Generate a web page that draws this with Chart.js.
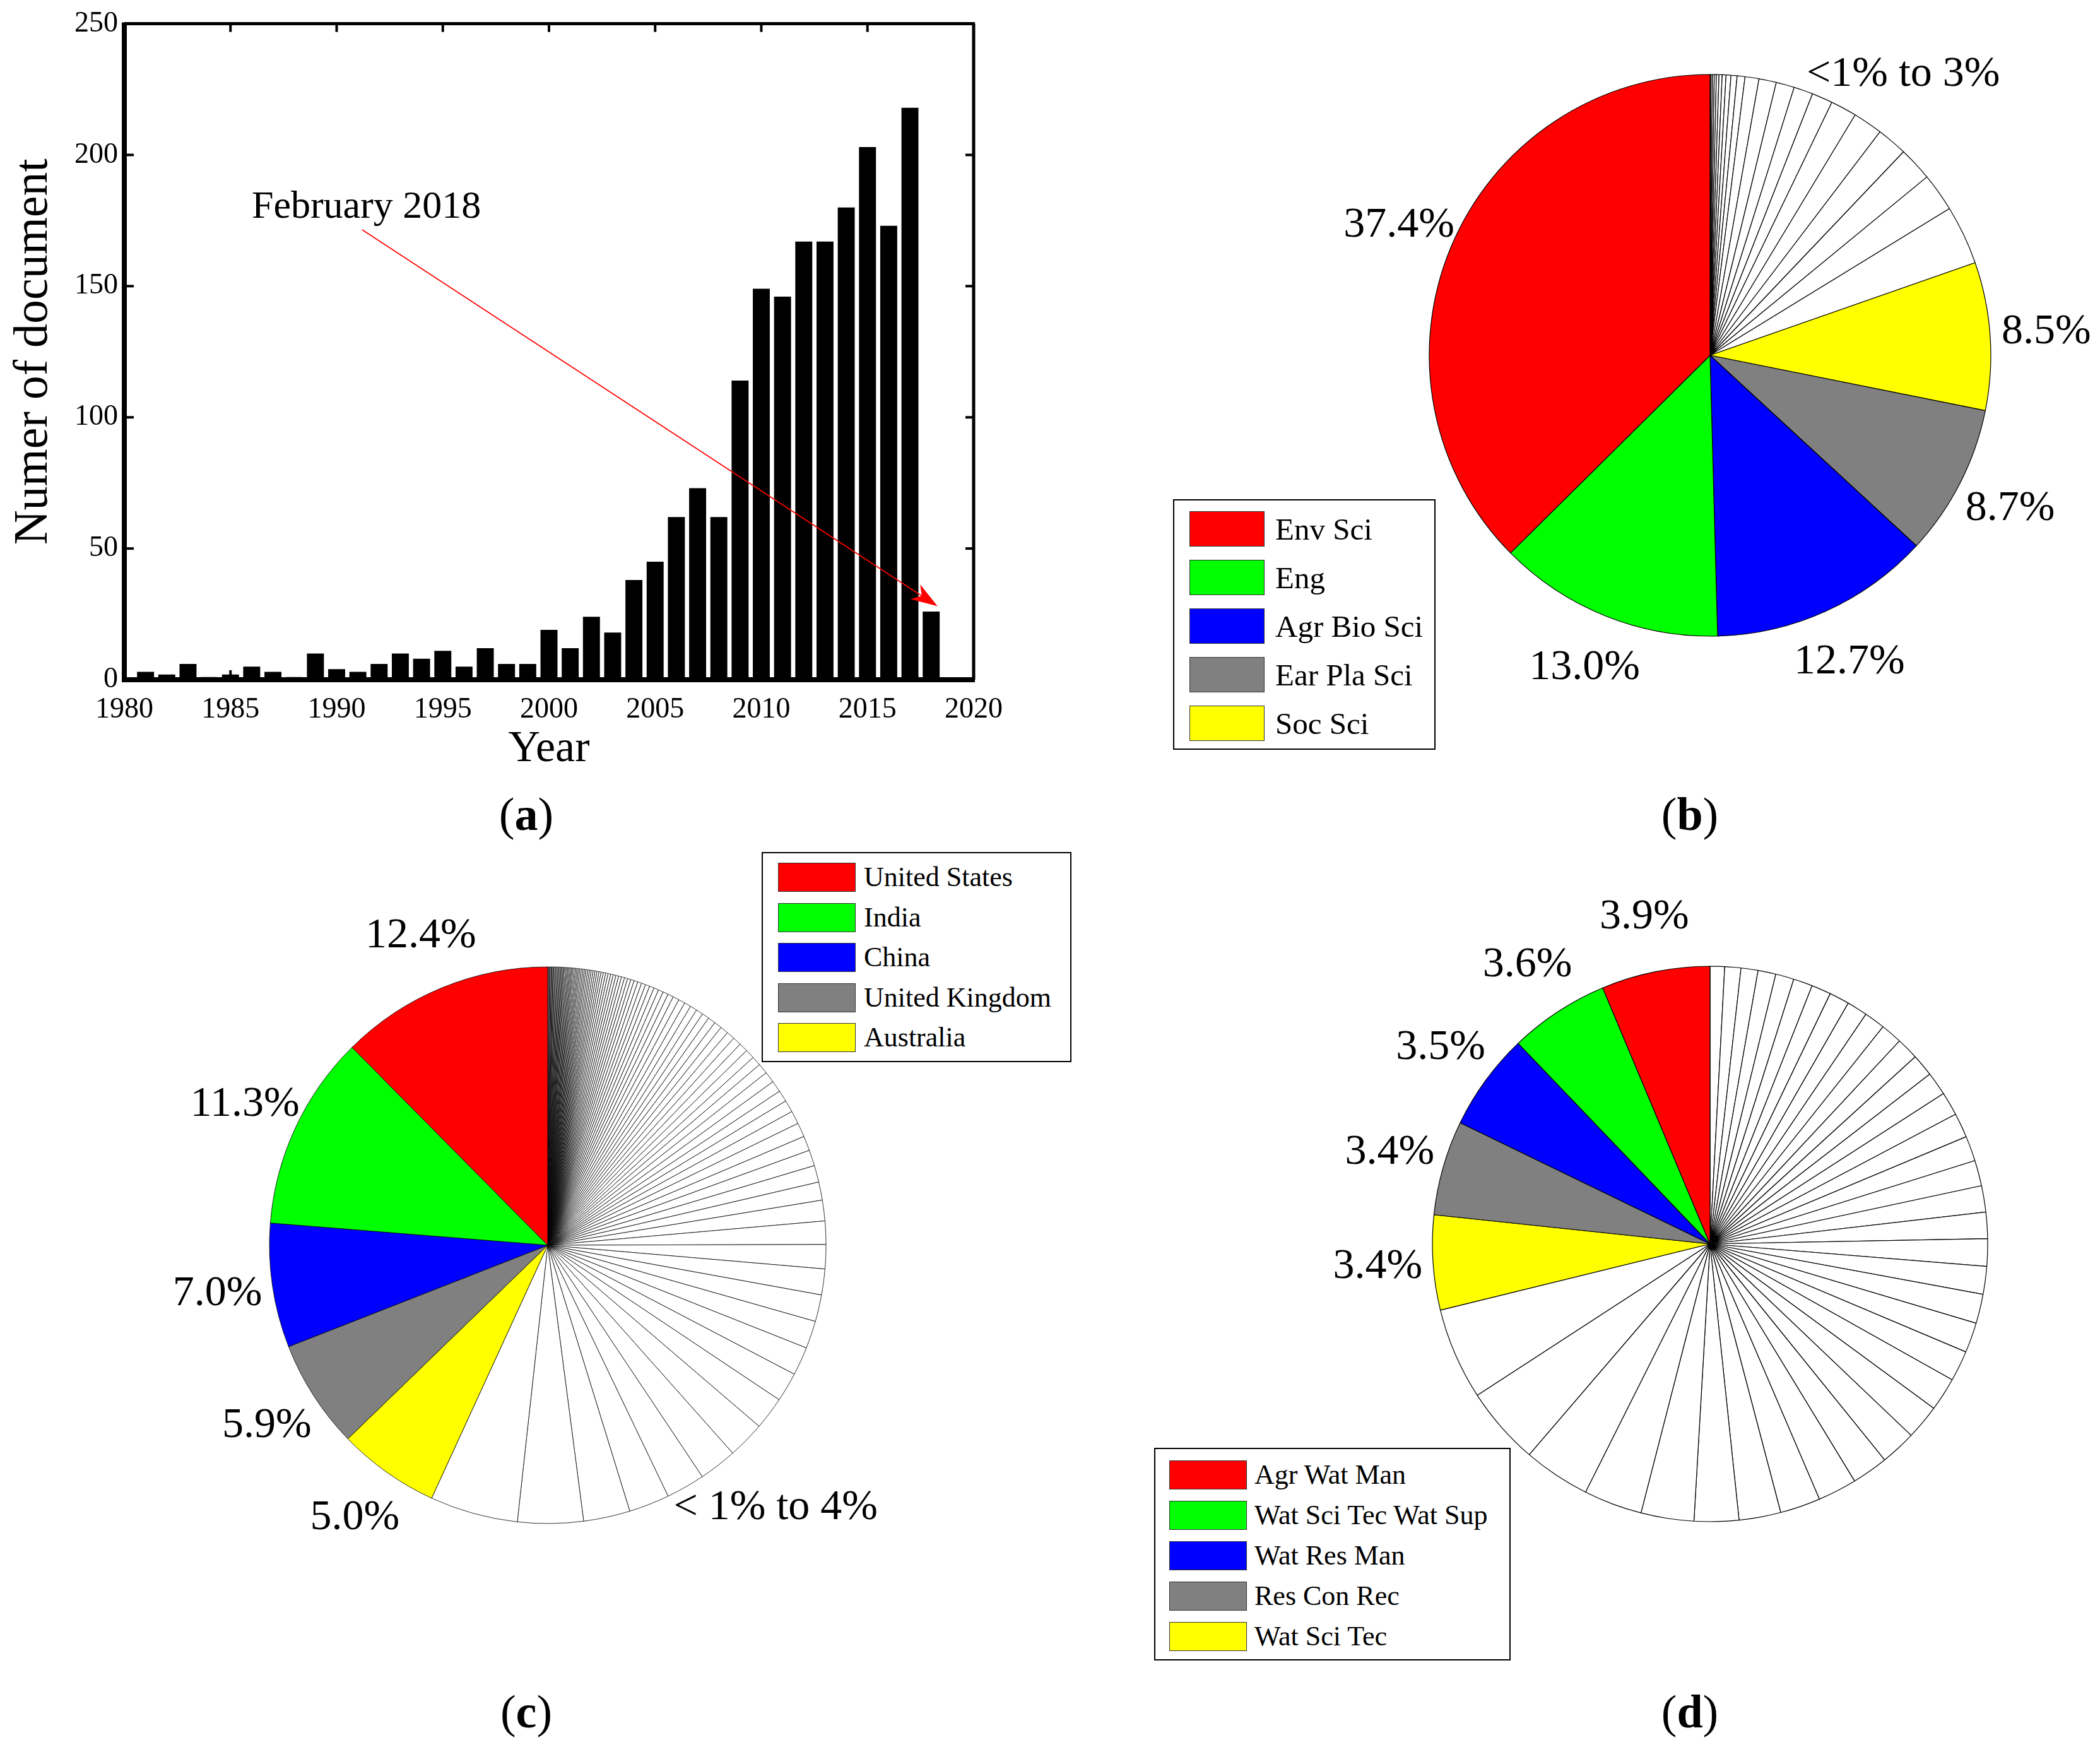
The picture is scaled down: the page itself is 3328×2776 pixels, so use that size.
<!DOCTYPE html>
<html>
<head>
<meta charset="utf-8">
<script src="https://cdn.jsdelivr.net/npm/chart.js@4.4.1/dist/chart.umd.min.js"></script>
<style>
  html, body { margin: 0; padding: 0; background: #fff; overflow: hidden; }
  body { width: 3328px; height: 2776px; position: relative; font-family: "Liberation Serif", serif; color: #000; }
  canvas { position: absolute; }
  .legend { position: absolute; background: #fff; border: 2px solid #000; box-sizing: border-box; z-index: 2; }
  .legend .sw { position: absolute; border: 1.5px solid #333; box-sizing: border-box; }
  .legend .txt { position: absolute; white-space: nowrap; transform: translateY(-50%); line-height: 1; }
  .panel { position: absolute; font-size: 74px; transform: translate(-50%, -50%); white-space: nowrap; }
</style>
</head>
<body>
<canvas id="bars" width="1664" height="1250" style="left:0;top:0"></canvas>
<canvas id="pieB" width="1300" height="1126" style="left:2060px;top:0"></canvas>
<canvas id="pieC" width="1300" height="1300" style="left:218px;top:1323px"></canvas>
<canvas id="pieD" width="1300" height="1300" style="left:2060px;top:1321px"></canvas>
<div class="panel" style="left:834px;top:1290px">(<b>a</b>)</div>
<div class="panel" style="left:2678px;top:1290px">(<b>b</b>)</div>
<div class="panel" style="left:834px;top:2712px">(<b>c</b>)</div>
<div class="panel" style="left:2678px;top:2712px">(<b>d</b>)</div>
<script>
// (a) documents per year
const years = [1981, 1982, 1983, 1984, 1985, 1986, 1987, 1988, 1989, 1990,
  1991, 1992, 1993, 1994, 1995, 1996, 1997, 1998, 1999, 2000,
  2001, 2002, 2003, 2004, 2005, 2006, 2007, 2008, 2009, 2010,
  2011, 2012, 2013, 2014, 2015, 2016, 2017, 2018];
const docCounts = [3, 2, 6, 1, 2, 5, 3, 1, 10, 4,
  3, 6, 10, 8, 11, 5, 12, 6, 6, 19,
  12, 24, 18, 38, 45, 62, 73, 62, 114, 149,
  146, 167, 167, 180, 203, 173, 218, 26];
const yearTicks = [1980, 1985, 1990, 1995, 2000, 2005, 2010, 2015, 2020];
const countTicks = [0, 50, 100, 150, 200, 250];
const noteText = 'February 2018';
const noteAt = [1986.0, 180];      // data coords of the note
const arrowFrom = [1991.2, 171.5]; // data coords
const arrowTo = [2018.3, 28];

// (b) subject areas
const subjectNames = ['Env Sci', 'Eng', 'Agr Bio Sci', 'Ear Pla Sci', 'Soc Sci'];
const subjectShares = [37.4, 13.0, 12.7, 8.7, 8.5];
const subjectLabels = ['37.4%', '13.0%', '12.7%', '8.7%', '8.5%'];
const subjectOtherShares = [3.4, 2.2, 1.95, 1.75, 1.7, 1.5, 1.2, 1.1, 1.05, 1.0,
  0.8, 0.45, 0.35, 0.28, 0.22, 0.18, 0.15, 0.12, 0.1, 0.08, 0.06];
const subjectOtherLabel = '<1% to 3%';

// (c) countries
const countryNames = ['United States', 'India', 'China', 'United Kingdom', 'Australia'];
const countryShares = [12.4, 11.3, 7.2, 6.3, 5.9];
const countryLabels = ['12.4%', '11.3%', '7.0%', '5.9%', '5.0%'];
const countryOtherShares = [5.1, 3.8, 2.7, 2.35, 2.25, 2.2, 2.15, 1.9, 1.7, 1.65,
  1.6, 1.55, 1.5, 1.4, 1.35, 1.2, 1.05, 0.97, 0.92, 0.85,
  0.82, 0.76, 0.7, 0.66, 0.66, 0.64, 0.6, 0.55, 0.54, 0.52,
  0.5, 0.48, 0.47, 0.45, 0.44, 0.42, 0.41, 0.4, 0.39, 0.38,
  0.36, 0.33, 0.31, 0.29, 0.28, 0.27, 0.25, 0.24, 0.23, 0.22,
  0.2, 0.19, 0.18, 0.18, 0.17, 0.16, 0.16, 0.15, 0.15, 0.14,
  0.14, 0.13, 0.12, 0.12, 0.11, 0.11, 0.11, 0.1, 0.1, 0.1,
  0.09, 0.09, 0.09, 0.09, 0.08, 0.08, 0.08, 0.08, 0.08, 0.07,
  0.07, 0.07, 0.07, 0.07, 0.07, 0.07, 0.06, 0.06, 0.06, 0.06,
  0.06, 0.06, 0.06, 0.06, 0.06, 0.06, 0.05, 0.05, 0.05, 0.05,
  0.05, 0.05, 0.05];
const countryOtherLabel = '< 1% to 4%';

// (d) journals
const journalNames = ['Agr Wat Man', 'Wat Sci Tec Wat Sup', 'Wat Res Man', 'Res Con Rec', 'Wat Sci Tec'];
const journalShares = [3.9, 3.6, 3.5, 3.4, 3.4];
const journalLabels = ['3.9%', '3.6%', '3.5%', '3.4%', '3.4%'];
const journalOtherShares = [3.3, 2.8, 2.4, 2.1, 1.9, 1.6, 1.5, 1.45, 1.4, 1.3,
  1.28, 1.25, 1.2, 1.1, 1.08, 1.05, 1.0, 0.98, 0.95, 0.94,
  0.92, 0.9, 0.88, 0.85, 0.84, 0.8, 0.79, 0.77, 0.75, 0.74,
  0.72, 0.7, 0.69, 0.66, 0.64, 0.61, 0.58, 0.52];

const sliceColors = ['#ff0000', '#00ff00', '#0000ff', '#808080', '#ffff00'];
const otherColor = '#ffffff';

Chart.defaults.font.family = '"Liberation Serif", "Times New Roman", serif';
Chart.defaults.color = '#000';

function line(ctx, x1, y1, x2, y2) {
  ctx.beginPath(); ctx.moveTo(x1, y1); ctx.lineTo(x2, y2); ctx.stroke();
}

// box round the plot with inward ticks, like the original figure
const boxAxes = {
  id: 'boxAxes',
  afterDraw(chart) {
    const ctx = chart.ctx;
    const {left, right, top, bottom} = chart.chartArea;
    const xs = chart.scales.x, ys = chart.scales.y;
    ctx.save();
    ctx.strokeStyle = '#000';
    ctx.lineWidth = 5;
    line(ctx, left, top, right + 2, top);
    line(ctx, right, top, right, bottom);
    ctx.lineWidth = 8;
    line(ctx, left, top - 2, left, bottom + 4);
    line(ctx, left - 4, bottom, right + 2, bottom);
    ctx.lineWidth = 4;
    xs.ticks.forEach(t => {
      const px = xs.getPixelForValue(t.value);
      line(ctx, px, bottom, px, bottom - 15);
      line(ctx, px, top, px, top + 13);
    });
    ys.ticks.forEach(t => {
      const py = ys.getPixelForValue(t.value);
      line(ctx, left, py, left + 15, py);
      line(ctx, right, py, right - 13, py);
    });
    ctx.restore();
  }
};

// red arrow and note
const noteArrow = {
  id: 'noteArrow',
  afterDatasetsDraw(chart) {
    const ctx = chart.ctx;
    const xs = chart.scales.x, ys = chart.scales.y;
    const x1 = xs.getPixelForValue(arrowFrom[0]), y1 = ys.getPixelForValue(arrowFrom[1]);
    const x2 = xs.getPixelForValue(arrowTo[0]), y2 = ys.getPixelForValue(arrowTo[1]);
    const a = Math.atan2(y2 - y1, x2 - x1);
    const len = 42, half = 14, notch = 12;
    ctx.save();
    ctx.strokeStyle = '#ff0000';
    ctx.fillStyle = '#ff0000';
    ctx.lineWidth = 1.6;
    line(ctx, x1, y1, x2 - Math.cos(a) * len * 0.6, y2 - Math.sin(a) * len * 0.6);
    ctx.beginPath();
    ctx.moveTo(x2, y2);
    ctx.lineTo(x2 - Math.cos(a) * len - Math.sin(a) * half, y2 - Math.sin(a) * len + Math.cos(a) * half);
    ctx.lineTo(x2 - Math.cos(a) * (len - notch), y2 - Math.sin(a) * (len - notch));
    ctx.lineTo(x2 - Math.cos(a) * len + Math.sin(a) * half, y2 - Math.sin(a) * len - Math.cos(a) * half);
    ctx.closePath();
    ctx.fill();
    ctx.fillStyle = '#000';
    ctx.font = '62px "Liberation Serif", serif';
    ctx.textAlign = 'left';
    ctx.textBaseline = 'middle';
    ctx.fillText(noteText, xs.getPixelForValue(noteAt[0]), ys.getPixelForValue(noteAt[1]));
    ctx.restore();
  }
};

new Chart(document.getElementById('bars'), {
  type: 'bar',
  data: {
    datasets: [{
      data: years.map((y, i) => ({x: y, y: docCounts[i]})),
      backgroundColor: '#000',
      borderWidth: 0,
      barPercentage: 0.8,
      categoryPercentage: 1
    }]
  },
  options: {
    responsive: false,
    animation: false,
    events: [],
    layout: {padding: {left: 0, top: 33, right: 121, bottom: 0}},
    plugins: {legend: {display: false}, tooltip: {enabled: false}},
    scales: {
      x: {
        type: 'linear',
        min: yearTicks[0],
        max: yearTicks[yearTicks.length - 1],
        offset: false,
        grid: {display: false, drawTicks: false},
        border: {display: false},
        afterBuildTicks: axis => { axis.ticks = yearTicks.map(v => ({value: v})); },
        afterFit: axis => { axis.height = 173; },
        ticks: {font: {size: 46}, padding: 20, maxRotation: 0, callback: v => String(v)},
        title: {display: true, text: 'Year', font: {size: 70}, padding: {top: 0, bottom: 20}}
      },
      y: {
        min: countTicks[0],
        max: countTicks[countTicks.length - 1],
        grid: {display: false, drawTicks: false},
        border: {display: false},
        afterBuildTicks: axis => { axis.ticks = countTicks.map(v => ({value: v})); },
        afterFit: axis => { axis.width = 197; },
        ticks: {font: {size: 46}, padding: 10},
        title: {display: true, text: 'Numer of document', font: {size: 76}, padding: {top: 8, bottom: 0}}
      }
    }
  },
  plugins: [boxAxes, noteArrow]
});

// percentage texts at 1.2 r on the mid angle of each coloured slice
const pieText = {
  id: 'pieText',
  afterDatasetsDraw(chart, args, opts) {
    const ctx = chart.ctx;
    const arcs = chart.getDatasetMeta(0).data;
    const n = arcs.length;
    ctx.save();
    ctx.fillStyle = '#000';
    ctx.font = opts.size + 'px "Liberation Serif", serif';
    ctx.textAlign = 'center';
    ctx.textBaseline = 'middle';
    let cx = 0, cy = 0, r = 0;
    opts.labels.forEach((txt, k) => {
      const arc = arcs[n - 1 - k];
      const p = arc.getProps(['x', 'y', 'startAngle', 'endAngle', 'outerRadius'], true);
      const mid = (p.startAngle + p.endAngle) / 2;
      cx = p.x; cy = p.y; r = p.outerRadius;
      ctx.fillText(txt, p.x + 1.2 * r * Math.cos(mid), p.y + 1.2 * r * Math.sin(mid));
    });
    if (opts.note) {
      ctx.fillText(opts.note.text, cx + opts.note.dx * r, cy + opts.note.dy * r);
    }
    ctx.restore();
  }
};

function makePie(id, shares, others, labels, radius, lineWidth, note) {
  // the original is drawn counter-clockwise from 12 o'clock, so reverse for Chart.js
  const values = shares.concat(others).reverse();
  const colors = sliceColors.concat(others.map(() => otherColor)).reverse();
  new Chart(document.getElementById(id), {
    type: 'pie',
    data: {
      labels: values.map((v, i) => 'slice ' + (values.length - i)),
      datasets: [{
        data: values,
        backgroundColor: colors,
        borderColor: '#000',
        borderWidth: lineWidth
      }]
    },
    options: {
      responsive: false,
      animation: false,
      events: [],
      radius: radius,
      layout: {padding: 0},
      plugins: {
        legend: {display: false},
        tooltip: {enabled: false},
        pieText: {labels: labels, size: 68, note: note}
      }
    },
    plugins: [pieText]
  });
}

makePie('pieB', subjectShares, subjectOtherShares, subjectLabels, 445, 1.2,
  {text: subjectOtherLabel, dx: 0.688, dy: -1.0});
makePie('pieC', countryShares, countryOtherShares, countryLabels, 441, 0.8,
  {text: countryOtherLabel, dx: 0.819, dy: 0.943});
makePie('pieD', journalShares, journalOtherShares, journalLabels, 440, 1.2, null);

function buildLegend(box, names) {
  const el = document.createElement('div');
  el.className = 'legend';
  Object.assign(el.style, {
    left: box.left + 'px', top: box.top + 'px',
    width: box.width + 'px', height: box.height + 'px'
  });
  names.forEach((name, i) => {
    const cy = box.firstRow + i * box.rowStep;
    const sw = document.createElement('div');
    sw.className = 'sw';
    Object.assign(sw.style, {
      left: box.swLeft + 'px', top: (cy - box.swHeight / 2) + 'px',
      width: box.swWidth + 'px', height: box.swHeight + 'px',
      background: sliceColors[i]
    });
    const tx = document.createElement('div');
    tx.className = 'txt';
    tx.textContent = name;
    Object.assign(tx.style, {left: box.textLeft + 'px', top: cy + 'px', fontSize: box.fontSize + 'px'});
    el.appendChild(sw);
    el.appendChild(tx);
  });
  document.body.appendChild(el);
}

buildLegend({left: 1859, top: 791, width: 416, height: 397, firstRow: 45, rowStep: 77,
  swLeft: 24, swWidth: 119, swHeight: 56, textLeft: 160, fontSize: 49}, subjectNames);
buildLegend({left: 1207, top: 1350, width: 491, height: 333, firstRow: 38, rowStep: 63.5,
  swLeft: 24, swWidth: 123, swHeight: 46, textLeft: 160, fontSize: 44}, countryNames);
buildLegend({left: 1829, top: 2294, width: 565, height: 337, firstRow: 41, rowStep: 64,
  swLeft: 22, swWidth: 123, swHeight: 46, textLeft: 157, fontSize: 44}, journalNames);
</script>
</body>
</html>
